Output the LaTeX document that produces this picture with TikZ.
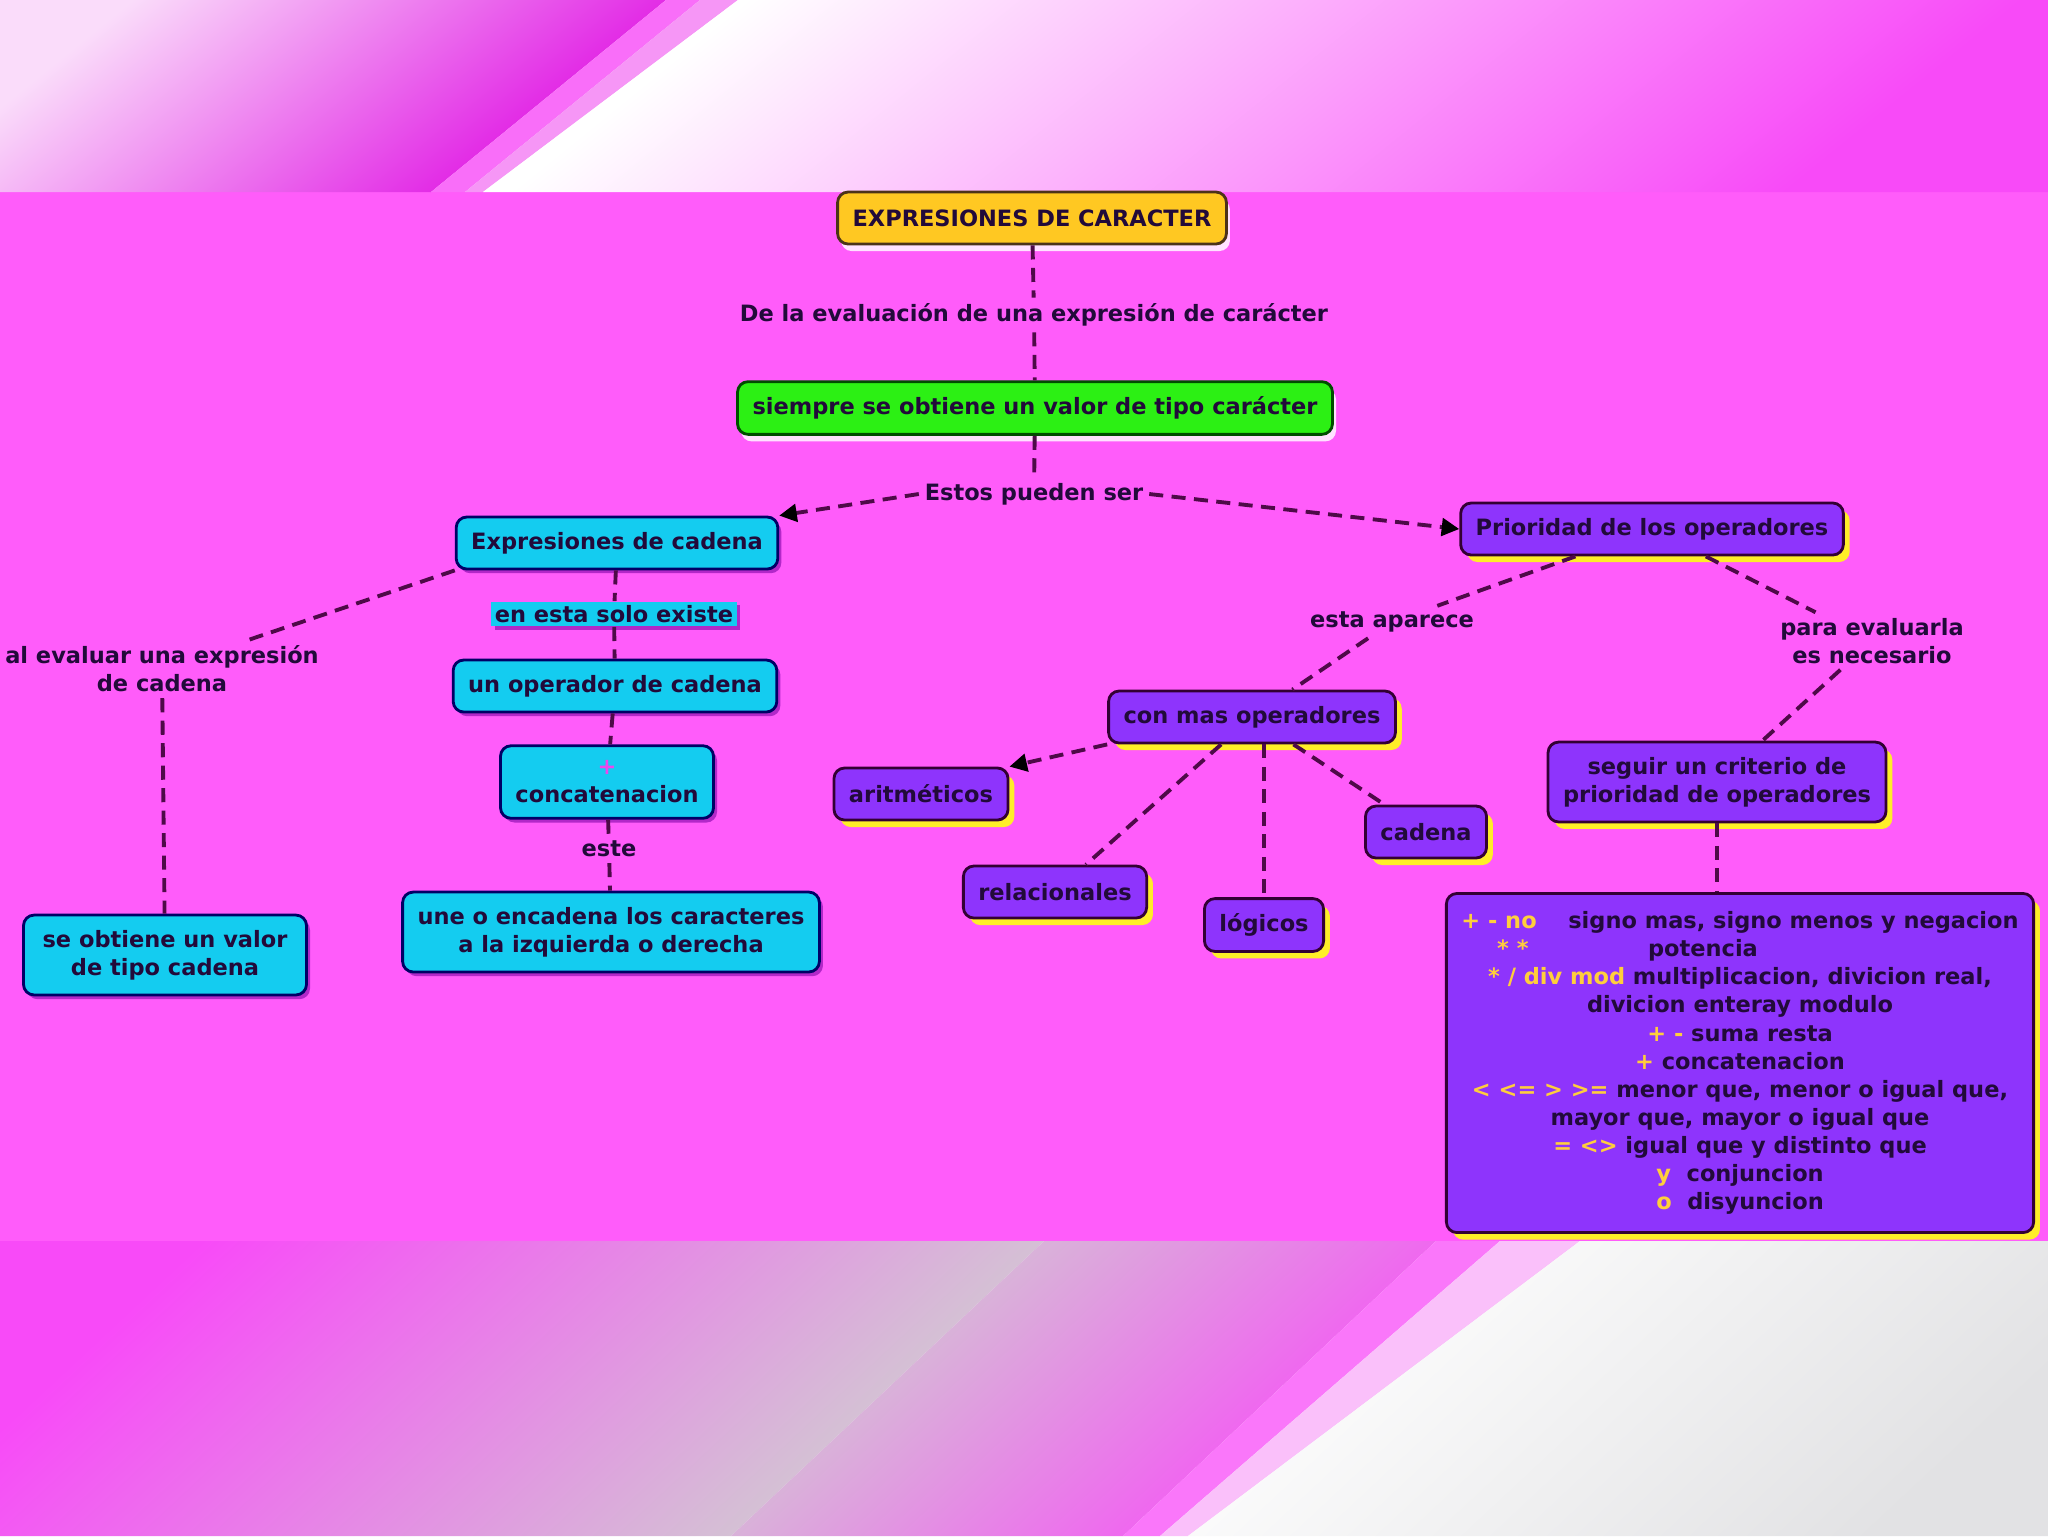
\documentclass[tikz,border=0pt]{standalone}
\usepackage{fontspec}
\setmainfont{DejaVu Sans}
\usepackage{xcolor}
\usetikzlibrary{arrows.meta, shadows}

\definecolor{mainpink}{RGB}{255,92,250}
\definecolor{bandmag}{RGB}{248,74,248}
\definecolor{deepmag}{RGB}{222,10,226}
\definecolor{softpink}{RGB}{250,220,250}
\definecolor{stripepink}{RGB}{246,150,246}
\definecolor{greyband}{RGB}{208,208,208}
\definecolor{lightgrey}{RGB}{226,226,228}
\definecolor{inkdark}{RGB}{34,10,58}
\definecolor{linkdark}{RGB}{78,10,72}
\definecolor{goldfill}{RGB}{255,200,34}
\definecolor{greenfill}{RGB}{44,240,20}
\definecolor{cyanfill}{RGB}{20,204,240}
\definecolor{violetfill}{RGB}{142,52,252}
\definecolor{shadowyellow}{RGB}{255,238,40}
\definecolor{shadowviolet}{RGB}{178,40,200}
\definecolor{shadowlight}{RGB}{255,226,255}
\definecolor{opyellow}{RGB}{255,206,60}
\definecolor{plusmag}{RGB}{236,70,236}

\newcommand{\mapfont}{\fontsize{6.4}{8}\selectfont\bfseries}
\newcommand{\op}[1]{\textcolor{opyellow}{#1}}

\begin{document}
\begin{tikzpicture}[
    x=0.1mm, y=-0.1mm,
    concept/.style={rectangle, rounded corners=3pt, thick, inner xsep=1.5mm, inner ysep=1.5mm, minimum height=5.2mm, align=center, text=inkdark, font=\mapfont},
    titlebox/.style={concept, draw=black!60!brown, fill=goldfill, drop shadow={shadow xshift=1pt, shadow yshift=-2pt, fill=shadowlight, opacity=1}},
    greenbox/.style={concept, draw=black!70!green, fill=greenfill, drop shadow={shadow xshift=1pt, shadow yshift=-2pt, fill=shadowlight, opacity=1}},
    cyanbox/.style={concept, draw=blue!40!black, fill=cyanfill, drop shadow={shadow xshift=1pt, shadow yshift=-1.2pt, fill=shadowviolet, opacity=1}},
    violetbox/.style={concept, draw=violet!40!black, fill=violetfill, drop shadow={shadow xshift=1.8pt, shadow yshift=-2pt, fill=shadowyellow, opacity=1}},
    caption/.style={font=\mapfont, text=inkdark, align=center, inner sep=1.5pt},
    tagbox/.style={caption, fill=cyanfill, inner sep=1pt, drop shadow={shadow xshift=1pt, shadow yshift=-1pt, fill=shadowviolet, opacity=1}},
    link/.style={draw=linkdark, line width=1.1pt, dash pattern=on 4pt off 2.4pt},
    arrow/.style={link, -{Triangle[length=5pt, width=5pt, color=black]}}
]
\useasboundingbox (0,0) rectangle (2048,1536);

% Background bands
\fill[mainpink] (0,192) rectangle (2048,1241);
\shade[left color=softpink, right color=deepmag, shading angle=39] (0,0) -- (666,0) -- (431,192) -- (0,192) -- cycle;
\fill[bandmag!80!white] (666,0) -- (700,0) -- (465,192) -- (431,192) -- cycle;
\fill[stripepink] (700,0) -- (738,0) -- (483,192) -- (465,192) -- cycle;
\shade[left color=white, middle color=bandmag!72!white, right color=bandmag, shading angle=39] (738,0) -- (2048,0) -- (2048,192) -- (483,192) -- cycle;
\shade[left color=bandmag, middle color=bandmag, right color=greyband, shading angle=43] (0,1241) -- (1044,1241) -- (731,1536) -- (0,1536) -- cycle;
\shade[left color=greyband, right color=bandmag, shading angle=43] (1044,1241) -- (1436,1241) -- (1123,1536) -- (731,1536) -- cycle;
\fill[bandmag!75!white] (1436,1241) -- (1500,1241) -- (1160,1536) -- (1123,1536) -- cycle;
\fill[stripepink!60!white] (1500,1241) -- (1580,1241) -- (1188,1536) -- (1160,1536) -- cycle;
\shade[left color=white, right color=lightgrey, shading angle=43] (1580,1241) -- (2048,1241) -- (2048,1536) -- (1188,1536) -- cycle;

% Top: title and main idea
\node[titlebox] (title) at (1032,218) {EXPRESIONES DE CARACTER};
\node[caption] (evalchar) at (1034,315) {De la evaluación de una expresión de carácter};
\node[greenbox] (siempre) at (1035,408) {siempre se obtiene un valor de tipo carácter};
\node[caption] (estos) at (1034,494) {Estos pueden ser};

% Left branch: string expressions
\node[cyanbox] (expcad) at (617,543) {Expresiones de cadena};
\node[tagbox] (solo) at (614,614) {en esta solo existe};
\node[caption] (evalcad) at (162,669) {al evaluar una expresión\\de cadena};
\node[cyanbox] (unop) at (615,686) {un operador de cadena};
\node[cyanbox] (concat) at (607,782) {{\color{plusmag}+}\\concatenacion};
\node[caption] (este) at (609,849) {este};
\node[cyanbox] (une) at (611,932) {une o encadena los caracteres\\a la izquierda o derecha};
\node[cyanbox, minimum width=28.3mm] (seobt) at (165,955) {se obtiene un valor\\de tipo cadena};

% Right branch: operator priority
\node[violetbox] (prio) at (1652,529) {Prioridad de los operadores};
\node[caption] (estaap) at (1392,622) {esta aparece};
\node[caption] (paraev) at (1872,641) {para evaluarla\\es necesario};
\node[violetbox] (conmas) at (1252,717) {con mas operadores};
\node[violetbox] (arit) at (921,794) {aritméticos};
\node[violetbox] (cadena) at (1426,832) {cadena};
\node[violetbox] (relac) at (1055,892) {relacionales};
\node[violetbox] (logicos) at (1264,925) {lógicos};
\node[violetbox] (seguir) at (1717,782) {seguir un criterio de\\prioridad de operadores};
\node[violetbox, inner ysep=1.8mm] (opbox) at (1740,1063) {%
  \op{+ - no}\hspace{9pt}signo mas, signo menos y negacion\\
  \op{* *}\hspace{34pt}potencia\hspace*{64pt}\mbox{}\\
  \op{* / div mod}\ multiplicacion, divicion real,\\
  divicion enteray modulo\\
  \op{+ -} suma resta\\
  \op{+} concatenacion\\
  \op{< <= > >=} menor que, menor o igual que,\\
  mayor que, mayor o igual que\\
  \op{= <>} igual que y distinto que\\
  \op{y}\ \ conjuncion\\
  \op{o}\ \ disyuncion};

% Connectors
\draw[link] (title) -- (evalchar);
\draw[link] (evalchar) -- (siempre);
\draw[link] (siempre) -- (estos);
\draw[arrow] (estos.west) -- (expcad.north east);
\draw[arrow] (estos.east) -- (prio.west);

\draw[link] (expcad) -- (solo);
\draw[link] (solo) -- (unop);
\draw[link] (unop) -- (concat);
\draw[link] (concat) -- (este);
\draw[link] (este) -- (une);
\draw[link] (expcad.south west) -- (evalcad);
\draw[link] (evalcad) -- (seobt);

\draw[link] (prio) -- (estaap);
\draw[link] (estaap) -- (conmas);
\draw[link] (prio) -- (paraev);
\draw[link] (paraev) -- (seguir);
\draw[link] (seguir.south) -- (seguir.south |- opbox.north);
\draw[arrow] (conmas.south west) -- (arit.north east);
\draw[link] (conmas) -- (relac);
\draw[link] (logicos |- conmas.south) -- (logicos.north);
\draw[link] (conmas) -- (cadena);

\end{tikzpicture}
\end{document}
